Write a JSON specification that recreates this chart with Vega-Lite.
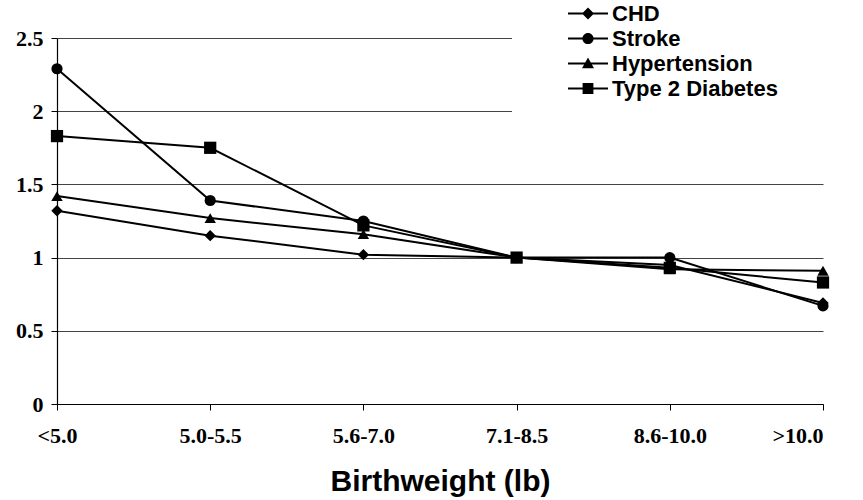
{
  "$schema": "https://vega.github.io/schema/vega-lite/v6.json",
  "width": 766,
  "height": 366,
  "autosize": {"type": "none"},
  "padding": {"left": 57, "top": 38, "right": 40, "bottom": 96},
  "background": "white",
  "config": {"view": {"stroke": null}, "legend": {"fillColor": "white", "strokeColor": "white", "zindex": 10}},
  "data": {
    "values": [
      {"series": "CHD", "bw": "<5.0", "value": 1.32},
      {"series": "CHD", "bw": "5.0-5.5", "value": 1.15},
      {"series": "CHD", "bw": "5.6-7.0", "value": 1.02},
      {"series": "CHD", "bw": "7.1-8.5", "value": 1.0},
      {"series": "CHD", "bw": "8.6-10.0", "value": 0.95},
      {"series": "CHD", "bw": ">10.0", "value": 0.69},
      {"series": "Stroke", "bw": "<5.0", "value": 2.29},
      {"series": "Stroke", "bw": "5.0-5.5", "value": 1.39},
      {"series": "Stroke", "bw": "5.6-7.0", "value": 1.25},
      {"series": "Stroke", "bw": "7.1-8.5", "value": 1.0},
      {"series": "Stroke", "bw": "8.6-10.0", "value": 1.0},
      {"series": "Stroke", "bw": ">10.0", "value": 0.67},
      {"series": "Hypertension", "bw": "<5.0", "value": 1.42},
      {"series": "Hypertension", "bw": "5.0-5.5", "value": 1.27},
      {"series": "Hypertension", "bw": "5.6-7.0", "value": 1.16},
      {"series": "Hypertension", "bw": "7.1-8.5", "value": 1.0},
      {"series": "Hypertension", "bw": "8.6-10.0", "value": 0.92},
      {"series": "Hypertension", "bw": ">10.0", "value": 0.91},
      {"series": "Type 2 Diabetes", "bw": "<5.0", "value": 1.83},
      {"series": "Type 2 Diabetes", "bw": "5.0-5.5", "value": 1.75},
      {"series": "Type 2 Diabetes", "bw": "5.6-7.0", "value": 1.22},
      {"series": "Type 2 Diabetes", "bw": "7.1-8.5", "value": 1.0},
      {"series": "Type 2 Diabetes", "bw": "8.6-10.0", "value": 0.93},
      {"series": "Type 2 Diabetes", "bw": ">10.0", "value": 0.83}
    ]
  },
  "encoding": {
    "x": {
      "field": "bw",
      "type": "ordinal",
      "sort": ["<5.0", "5.0-5.5", "5.6-7.0", "7.1-8.5", "8.6-10.0", ">10.0"],
      "scale": {"type": "point", "padding": 0},
      "axis": {
        "labelAngle": 0,
        "labelFont": "Liberation Serif",
        "labelFontWeight": "bold",
        "labelFontSize": 22,
        "labelColor": "black",
        "labelPadding": 15,
        "labelAlign": {"condition": {"test": "datum.value == '>10.0'", "value": "right"}, "value": "center"},
        "labelBound": false,
        "labelOverlap": false,
        "tickColor": "black",
        "tickSize": 6,
        "tickWidth": 1,
        "domainColor": "black",
        "domainWidth": 1.2,
        "grid": false,
        "title": "Birthweight (lb)",
        "titleFont": "Liberation Sans",
        "titleFontSize": 30,
        "titleFontWeight": "bold",
        "titleColor": "black",
        "titlePadding": 20
      }
    },
    "y": {
      "field": "value",
      "type": "quantitative",
      "scale": {"domain": [0, 2.5], "nice": false},
      "axis": {
        "values": [0, 0.5, 1, 1.5, 2, 2.5],
        "format": "~g",
        "labelFont": "Liberation Serif",
        "labelFontWeight": "bold",
        "labelFontSize": 22,
        "labelColor": "black",
        "labelPadding": 8,
        "tickColor": "black",
        "tickSize": 6,
        "domainColor": "black",
        "domainWidth": 1.2,
        "grid": true,
        "gridColor": "#444444",
        "gridWidth": 1.2,
        "gridOpacity": 1,
        "title": null
      }
    }
  },
  "layer": [
    {
      "mark": {"type": "line", "color": "black", "strokeWidth": 2},
      "encoding": {"detail": {"field": "series"}}
    },
    {
      "transform": [{"filter": "datum.series == 'CHD'"}],
      "mark": {"type": "point", "filled": true, "color": "black", "opacity": 1, "size": 130, "shape": "diamond"}
    },
    {
      "transform": [{"filter": "datum.series == 'Stroke'"}],
      "mark": {"type": "point", "filled": true, "color": "black", "opacity": 1, "size": 125, "shape": "circle"}
    },
    {
      "transform": [{"filter": "datum.series == 'Hypertension'"}],
      "mark": {"type": "point", "filled": true, "color": "black", "opacity": 1, "size": 130, "shape": "triangle-up"}
    },
    {
      "transform": [{"filter": "datum.series == 'Type 2 Diabetes'"}],
      "mark": {"type": "point", "filled": true, "color": "black", "opacity": 1, "size": 150, "shape": "square"}
    },
    {
      "transform": [{"filter": "datum.value < 0"}],
      "mark": {"type": "point", "filled": true, "color": "black", "opacity": 1, "size": 1600},
      "encoding": {
        "shape": {
          "field": "series",
          "scale": {
            "domain": ["CHD", "Stroke", "Hypertension", "Type 2 Diabetes"],
            "range": [
              "M-1,-0.05H1V0.05H-1ZM0,-0.3L0.3,0L0,0.3L-0.3,0Z",
              "M-1,-0.05H1V0.05H-1ZM-0.28,0A0.28,0.28 0 1,1 0.28,0A0.28,0.28 0 1,1 -0.28,0Z",
              "M-1,-0.05H1V0.05H-1ZM0,-0.3L0.3,0.24L-0.3,0.24Z",
              "M-1,-0.05H1V0.05H-1ZM-0.27,-0.27H0.27V0.27H-0.27Z"
            ]
          },
          "legend": {
            "title": null,
            "orient": "none",
            "legendX": 455,
            "legendY": -92,
            "padding": 55,
            "symbolSize": 1600,
            "symbolFillColor": "black",
            "symbolOpacity": 1,
            "clipHeight": 25,
            "rowPadding": 0,
            "labelFont": "Liberation Sans",
            "labelFontWeight": "bold",
            "labelFontSize": 22,
            "labelColor": "black",
            "labelOffset": 3,
            "labelLimit": 300,
            "encode": {
              "symbols": {
                "update": {
                  "fill": {"value": "black"},
                  "opacity": {"value": 1}
                }
              }
            }
          }
        }
      }
    }
  ]
}
